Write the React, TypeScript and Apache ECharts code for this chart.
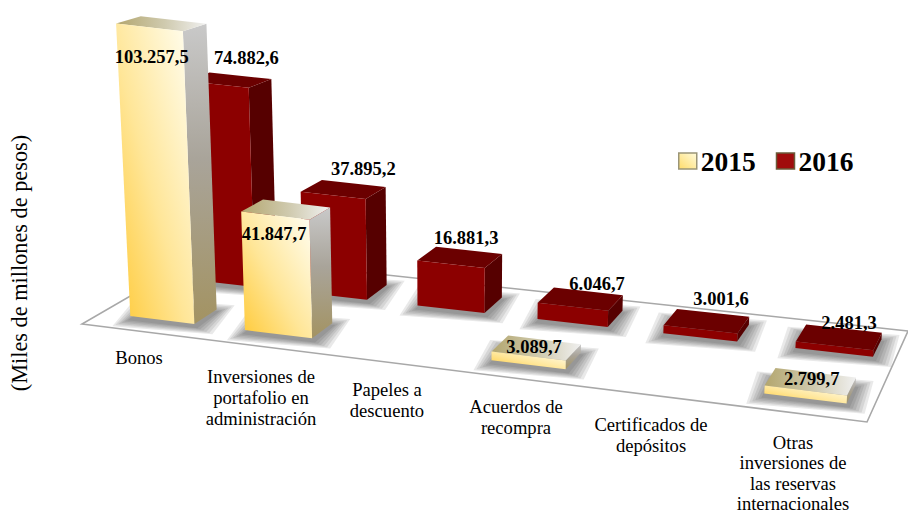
import React, { useEffect, useRef } from "react";
import * as echarts from "echarts";

const categories = [
  "Bonos",
  "Inversiones de\nportafolio en\nadministración",
  "Papeles a\ndescuento",
  "Acuerdos de\nrecompra",
  "Certificados de\ndepósitos",
  "Otras\ninversiones de\nlas reservas\ninternacionales",
];
const values2015: (number | null)[] = [103257.5, 41847.7, null, 3089.7, null, 2799.7];
const values2016: (number | null)[] = [74882.6, 37895.2, 16881.3, 6046.7, 3001.6, 2481.3];
const labels2015 = ["103.257,5", "41.847,7", "", "3.089,7", "", "2.799,7"];
const labels2016 = ["74.882,6", "37.895,2", "16.881,3", "6.046,7", "3.001,6", "2.481,3"];
const yAxisTitle = "(Miles de millones de pesos)";

// ---- perspective floor (layout only) ----
const FLOOR = [[82, 324], [867, 422], [908, 331], [201, 255]];
const H = { a: 661.3, b: 142.8, c: 82, d: 37.8, e: -38.8, f: 324, g: -0.1427, h: 0.1186 };
const VP = [456, 7000];
const U0 = 0.09;
const USTEP = 0.1665;
const HALF_W = 0.047;

function project(u: number, v: number) {
  const w = H.g * u + H.h * v + 1;
  return [(H.a * u + H.b * v + H.c) / w, (H.d * u + H.e * v + H.f) / w];
}
function lift(p: number[], h: number) {
  const k = h / (VP[1] - p[1]);
  return [p[0] - (VP[0] - p[0]) * k, p[1] - h];
}
const heightFactor = (v: number) => 1 - (v - 0.15) * 0.12;

// label placement relative to the centre of the bar's top back edge
const nudge2015 = [[-22, 37], [-22.5, 31], [0, 0], [-10.5, 7], [0, 0], [-4, 6]];
const nudge2016 = [[6, -18], [9.5, -14], [-3, -12], [8.7, -7], [8, -14], [5, -6]];
const categoryAnchors = [[139, 347], [261, 366], [387, 379], [516, 396], [651, 414], [793, 432]];

const FONT = "'Liberation Serif', 'Times New Roman', serif";

const grad = (x: number, y: number, x2: number, y2: number, stops: [number, string][]) => ({
  type: "linear", x, y, x2, y2,
  colorStops: stops.map(([offset, color]) => ({ offset, color })),
});

const styles2015 = {
  front: grad(0, 1, 1, 0, [[0, "#FFC935"], [0.45, "#FFE698"], [1, "#FFFFF6"]]),
  side: grad(0, 0, 0, 1, [[0, "#C9C9C9"], [0.45, "#A9A49A"], [1, "#A39362"]]),
  top: grad(0, 0, 1, 0, [[0, "#B3A66E"], [0.55, "#D0CBB0"], [1, "#F0F0F0"]]),
};
const styles2016 = { front: "#8C0000", side: "#560000", top: "#6B0000" };

function softShadow(points: number[][]) {
  const cx = points.reduce((s, p) => s + p[0], 0) / points.length;
  const cy = points.reduce((s, p) => s + p[1], 0) / points.length;
  return [18, 15, 12, 9, 6, 3].map((d) => ({
    type: "polygon",
    shape: {
      points: points.map((p) => [
        p[0] + Math.sign(p[0] - cx) * d,
        p[1] + Math.sign(p[1] - cy) * d * 0.4 + 3,
      ]),
    },
    style: { fill: "rgba(40,40,40,0.1)" },
  }));
}

function barRenderer(
  styles: { front: any; side: any; top: any },
  labels: string[],
  nudges: number[][],
  v0: number,
  v1: number,
  shift: number
) {
  return (_p: any, api: any) => {
    const i = api.value(0);
    const val = api.value(1);
    const px = api.coord([i, 0])[1] - api.coord([i, val])[1];
    const uc = U0 + USTEP * i + shift;
    const fl = project(uc - HALF_W, v0);
    const fr = project(uc + HALF_W, v0);
    const br = project(uc + HALF_W, v1);
    const bl = project(uc - HALF_W, v1);
    const tfl = lift(fl, px * heightFactor(v0));
    const tfr = lift(fr, px * heightFactor(v0));
    const tbr = lift(br, px * heightFactor(v1));
    const tbl = lift(bl, px * heightFactor(v1));
    const poly = (points: number[][], fill: any) => ({
      type: "polygon",
      shape: { points },
      style: { fill },
    });
    return {
      type: "group",
      children: [
        ...softShadow([fl, fr, br, bl]),
        poly([fr, br, tbr, tfr], styles.side),
        poly([tfl, tfr, tbr, tbl], styles.top),
        poly([fl, fr, tfr, tfl], styles.front),
        {
          type: "text",
          style: {
            text: labels[i],
            x: (tbl[0] + tbr[0]) / 2 + nudges[i][0],
            y: (tbl[1] + tbr[1]) / 2 + nudges[i][1],
            align: "center",
            verticalAlign: "middle",
            fontFamily: FONT,
            fontWeight: "bold",
            fontSize: 18.5,
            fill: "#000",
          },
        },
      ],
    };
  };
}

const toData = (vals: (number | null)[]) =>
  vals.map((v, i) => [i, v]).filter((d) => d[1] !== null);

export default function App() {
  const ref = useRef<HTMLDivElement>(null);
  useEffect(() => {
    document.body.style.margin = "0";
    const chart = echarts.init(ref.current!, undefined, { renderer: "svg" });
    chart.setOption({
      animation: false,
      backgroundColor: "#fff",
      grid: { left: 80, right: 40, top: 93, height: 340 },
      legend: {
        left: 673,
        top: 142,
        itemWidth: 18,
        itemHeight: 16,
        itemGap: 20,
        selectedMode: false,
        textStyle: {
          fontFamily: FONT,
          fontWeight: "bold",
          fontSize: 27.5,
          color: "#000",
          padding: [0, 0, 0, -1],
        },
        data: [
          { name: "2015", icon: "rect", itemStyle: { color: grad(0, 1, 1, 0, [[0, "#FFDC6A"], [1, "#FFFBDC"]]), borderColor: "#9B9577", borderWidth: 1.5 } },
          { name: "2016", icon: "rect", itemStyle: { color: "#A00C0C", borderColor: "#6B5B3A", borderWidth: 1.5 } },
        ],
      },
      xAxis: { type: "category", data: categories, show: false },
      yAxis: {
        type: "value",
        min: 0,
        max: 120000,
        name: yAxisTitle,
        nameLocation: "middle",
        nameGap: 58,
        nameRotate: 90,
        nameTextStyle: { fontFamily: FONT, fontSize: 22.3, color: "#000" },
        axisLine: { show: false },
        axisTick: { show: false },
        axisLabel: { show: false },
        splitLine: { show: false },
      },
      series: [
        {
          type: "custom",
          name: "floor",
          silent: true,
          data: [[0, 0]],
          renderItem: () => ({
            type: "polygon",
            shape: { points: FLOOR },
            style: { fill: "#fff", stroke: "#A8A8A8", lineWidth: 1.6 },
          }),
        },
        {
          type: "custom",
          name: "categories",
          silent: true,
          data: categories.map((_, i) => [i, 0]),
          renderItem: (_p: any, api: any) => {
            const i = api.value(0);
            return {
              type: "text",
              style: {
                text: categories[i],
                x: categoryAnchors[i][0],
                y: categoryAnchors[i][1],
                align: "center",
                verticalAlign: "top",
                fontFamily: FONT,
                fontSize: 18.6,
                lineHeight: categories[i].split("\n").length > 3 ? 20.4 : 21,
                fill: "#000",
              },
            };
          },
        },
        {
          type: "custom",
          name: "2016",
          itemStyle: { color: "#8C0000" },
          data: toData(values2016),
          renderItem: barRenderer(styles2016, labels2016, nudge2016, 0.66, 0.87, 0.004),
        },
        {
          type: "custom",
          name: "2015",
          itemStyle: { color: "#FFE698" },
          data: toData(values2015),
          renderItem: barRenderer(styles2015, labels2015, nudge2015, 0.15, 0.34, 0),
        },
      ],
    });
    return () => chart.dispose();
  }, []);
  return <div ref={ref} style={{ width: 908, height: 514 }} />;
}
